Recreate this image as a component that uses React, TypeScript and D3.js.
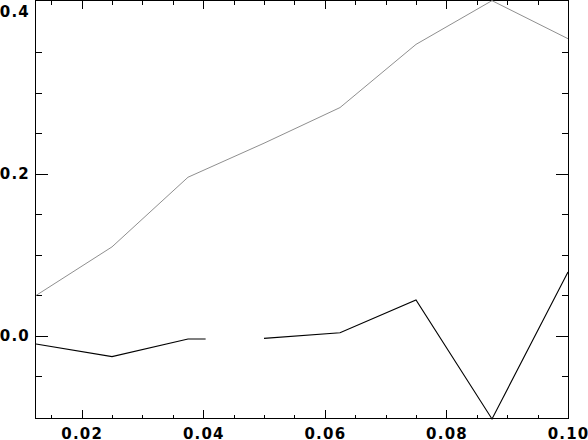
import React, { useRef, useEffect } from 'react';
import * as d3 from 'd3';

// sample positions
const xValues = [0.0125, 0.025, 0.0375, 0.05, 0.0625, 0.075, 0.0875, 0.1];
const grayValues = [0.05, 0.11, 0.196, 0.238, 0.282, 0.36, 0.414, 0.367];

// black series has a gap (null) after 0.0404
const blackX = [0.0125, 0.025, 0.0375, 0.0404, 0.045, 0.05, 0.0625, 0.075, 0.0875, 0.1];
const blackValues = [-0.01, -0.0255, -0.0037, -0.0037, null, -0.003, 0.004, 0.0444, -0.1025, 0.079];

const xTickLabels = ['0.02', '0.04', '0.06', '0.08', '0.10'];
const yTickLabels = ['0.0', '0.2', '0.4'];

const W = 588;
const H = 440;

const App = () => {
  const svgRef = useRef(null);

  useEffect(() => {
    const svg = d3.select(svgRef.current);
    svg.selectAll('*').remove();

    const left = 35.5, right = 568, top = 0.5, bottom = 418.5;

    const x = d3.scaleLinear().domain([0.0125, 0.1]).range([36, 568]);
    const y = d3.scaleLinear().domain([-0.1025, 0.4148]).range([419, 0]);

    // frame
    svg.append('rect')
      .attr('x', left).attr('y', top)
      .attr('width', right - left).attr('height', bottom - top)
      .attr('fill', 'none').attr('stroke', '#000')
      .attr('shape-rendering', 'crispEdges');

    // x ticks every 0.005, majors every 0.02
    const xt = d3.range(15, 101, 5).map(v => v / 1000);
    xt.forEach(v => {
      const major = Math.abs((v * 1000) % 20) < 1e-6;
      const len = major ? 8.5 : 4;
      const px = Math.round(x(v)) + 0.5;
      if (px > right - 1) return;
      svg.append('line').attr('x1', px).attr('x2', px)
        .attr('y1', bottom).attr('y2', bottom - len)
        .attr('stroke', '#000').attr('shape-rendering', 'crispEdges');
      svg.append('line').attr('x1', px).attr('x2', px)
        .attr('y1', top).attr('y2', top + len)
        .attr('stroke', '#000').attr('shape-rendering', 'crispEdges');
    });

    // y ticks every 0.05, majors every 0.2 (none drawn at 0.4)
    const yt = d3.range(-5, 40, 5).map(v => v / 100);
    yt.forEach(v => {
      const major = Math.abs(Math.round(v * 100) % 20) === 0;
      const len = major ? 12 : 6.5;
      const py = Math.round(y(v)) + 0.5;
      svg.append('line').attr('x1', left).attr('x2', left + len)
        .attr('y1', py).attr('y2', py)
        .attr('stroke', '#000').attr('shape-rendering', 'crispEdges');
      svg.append('line').attr('x1', right).attr('x2', right - len)
        .attr('y1', py).attr('y2', py)
        .attr('stroke', '#000').attr('shape-rendering', 'crispEdges');
    });

    const font = (sel) => sel
      .attr('font-family', 'DejaVu Sans')
      .attr('font-weight', 'bold')
      .attr('font-size', 15)
      .attr('letter-spacing', 1.2)
      .attr('fill', '#000');

    // x labels
    svg.selectAll('.xl').data(xTickLabels).enter().append('text')
      .attr('class', 'xl')
      .attr('x', d => x(+d) + 0.6)
      .attr('y', 438.5)
      .attr('text-anchor', 'middle')
      .text(d => d)
      .call(font);

    // y labels
    svg.selectAll('.yl').data(yTickLabels).enter().append('text')
      .attr('class', 'yl')
      .attr('x', 30)
      .attr('y', d => y(+d) + 5.5)
      .attr('text-anchor', 'end')
      .text(d => d)
      .call(font);

    // gray line
    const grayLine = d3.line()
      .x((d, i) => x(xValues[i]))
      .y(d => y(d));
    svg.append('path')
      .datum(grayValues)
      .attr('d', grayLine)
      .attr('fill', 'none')
      .attr('stroke', '#8f8f8f')
      .attr('stroke-width', 1);

    // black line with gap
    const blackLine = d3.line()
      .defined(d => d != null)
      .x((d, i) => x(blackX[i]))
      .y(d => y(d));
    svg.append('path')
      .datum(blackValues)
      .attr('d', blackLine)
      .attr('fill', 'none')
      .attr('stroke', '#000')
      .attr('stroke-width', 1.1);
  }, []);

  return (
    <svg ref={svgRef} width={W} height={H}
      style={{ position: 'absolute', left: 0, top: 0, background: '#fff' }} />
  );
};

export default App;
